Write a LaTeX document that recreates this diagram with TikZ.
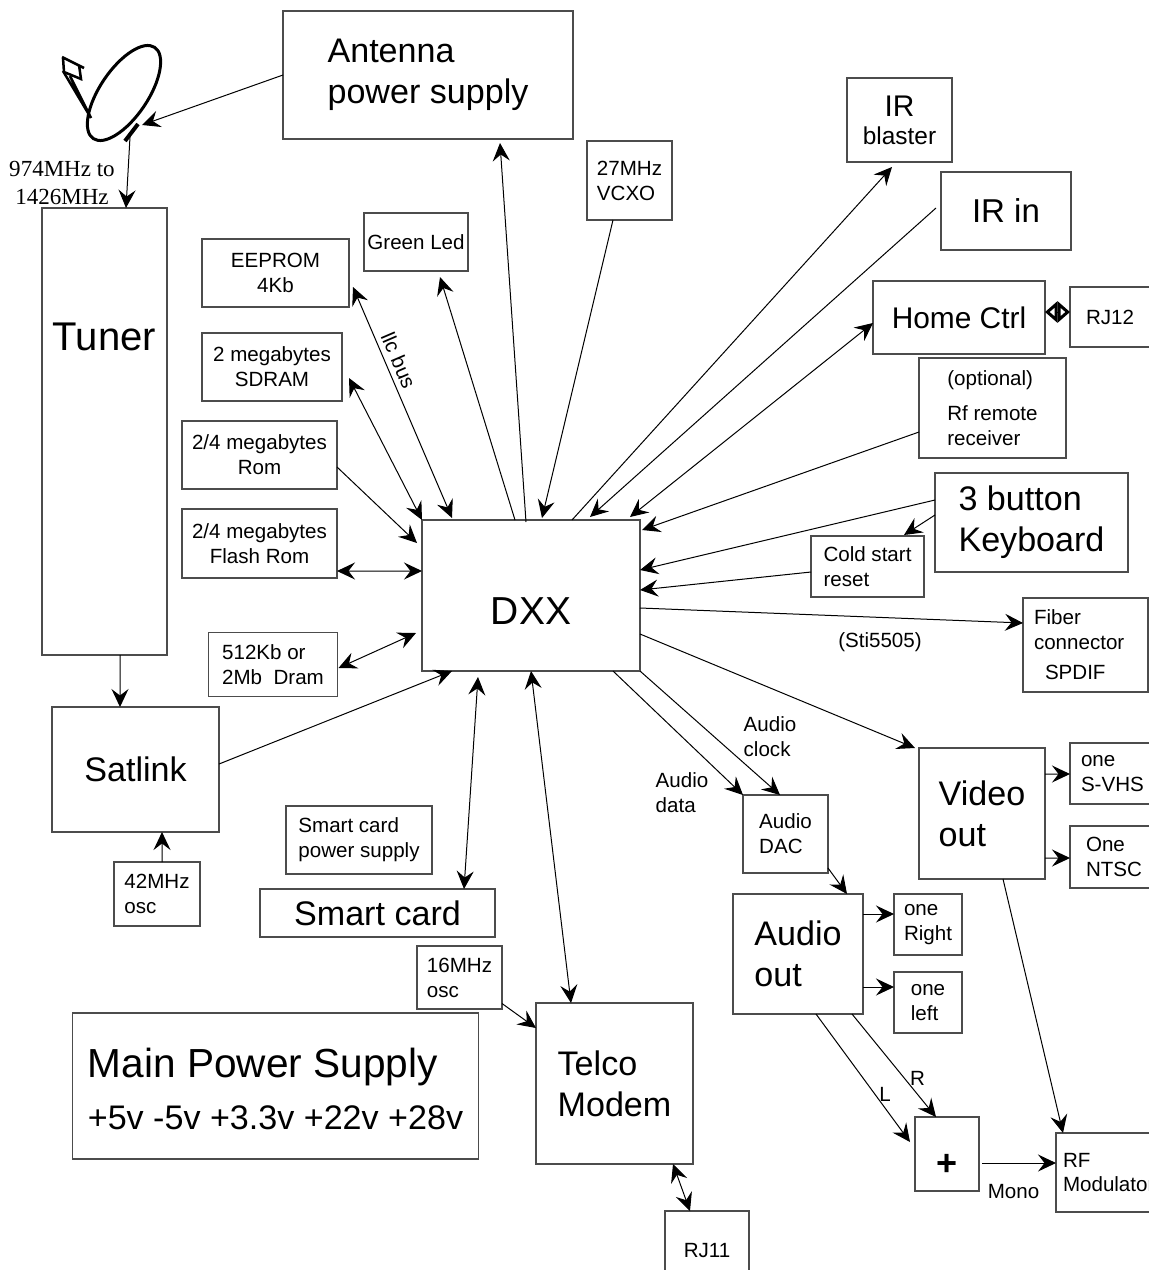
\documentclass[tikz,border=0pt]{standalone}
\usepackage{fontspec}
\setmainfont{Liberation Sans}
\newfontfamily\timesfont{Liberation Serif}
\usetikzlibrary{arrows.meta}

\newlength\pxu
\setlength\pxu{0.2mm}
\newcommand\smallf{\fontsize{11.7}{14.2}\selectfont}
\newcommand\bigf{\fontsize{19.4}{23.3}\selectfont}

\tikzset{
  blk/.style={draw=black!70, line width=0.28mm, rectangle, inner sep=0pt, outer sep=0pt, align=center, font=\smallf},
  wh/.style 2 args={minimum width=#1\pxu, minimum height=#2\pxu},
  big/.style={font=\bigf},
  txt/.style={inner sep=0pt, font=\smallf, align=left},
  >={Stealth[length=3.6mm, width=3.4mm, inset=1.3mm]},
}

\begin{document}
\begin{tikzpicture}[x=0.2mm, y=-0.2mm, line width=0.2mm]
			\fill[white] (0,0) rectangle (1149,1270);
			\useasboundingbox (0,0) rectangle (1149,1270);
			% dish
			\draw[line width=0.6mm, rotate around={56:(124,93)}] (124,93) ellipse [x radius=55, y radius=24];
			\draw[line width=0.5mm] (63,71) -- (91,118) -- (70,76);
			\draw[line width=0.5mm] (62,57) -- (84,68) (63,58) -- (64,72) -- (81,79) -- (79,65);
			\draw[line width=0.8mm] (125,141) -- (138,124);
			\coordinate (dishin) at (142,125);
			\coordinate (dishout) at (130,137);
			% blocks
			\node[blk, big, wh={290}{128}, align=left] (aps) at (428,75) {Antenna\\power supply};
			\node[blk, wh={85}{79}, align=left] (vcxo) at (629.5,180.5) {27MHz\\VCXO};
			\node[blk, wh={105}{84}, font=\fontsize{13.9}{15.9}\selectfont] (irb) at (899.5,120) {{\fontsize{17}{15.9}\selectfont IR}\\blaster};
			\node[blk, wh={130}{78}, font=\fontsize{18.8}{22}\selectfont] (irin) at (1006,211) {IR in};
			\node[blk, wh={172}{73}, font=\fontsize{17}{20}\selectfont] (home) at (959,317.5) {Home Ctrl};
			\node[blk, wh={80}{60}] (rj12) at (1110,317) {RJ12};
			\node[blk, wh={147}{68}] (eeprom) at (275.5,273) {EEPROM\\4Kb};
			\node[blk, wh={104}{58}] (led) at (416,242) {Green Led};
			\node[blk, wh={140}{68}] (sdram) at (272,367) {2 megabytes\\SDRAM};
			\node[blk, wh={155}{68}] (rom) at (259.5,455) {2/4 megabytes\\Rom};
			\node[blk, wh={155}{69}] (flash) at (259.5,543.5) {2/4 megabytes\\Flash Rom};
			\node[blk, wh={129}{64}, align=left] (dram) at (273,664.5) {512Kb or\\2Mb\ \ Dram};
			\node[blk, wh={218}{151}, font=\fontsize{22.2}{26}\selectfont, text height=57\pxu] (dxx) at (531,595.5) {DXX};
			\node[blk, wh={147}{100}, align=left] (rfrx) at (992.5,408) {(optional)\\[10\pxu]Rf remote\\receiver};
			\node[blk, big, wh={193}{99}, align=left] (kbd) at (1031.5,522.5) {3 button\\Keyboard};
			\node[blk, wh={113}{61}, align=left] (cold) at (867.5,566.5) {Cold start\\reset};
			\node[blk, wh={125}{94}, text width=103\pxu, align=left] (fiber) at (1085.5,645) {Fiber\\connector\\[5\pxu]\hspace*{11\pxu}SPDIF};
			\node[blk, wh={125}{447}, font=\fontsize{22.8}{27}\selectfont, text depth=189\pxu] (tuner) at (104.5,431.5) {Tuner};
			\node[blk, big, wh={167}{125}] (satlink) at (135.5,769.5) {Satlink};
			\node[blk, wh={86}{64}, align=left] (osc42) at (157,894) {42MHz\\osc};
			\node[blk, wh={146}{68}, align=left] (scps) at (359,840) {Smart card\\power supply};
			\node[blk, big, wh={235}{48}] (scard) at (377.5,913) {Smart card};
			\node[blk, wh={85}{63}, align=left] (osc16) at (459.5,977.5) {16MHz\\osc};
			\node[blk, wh={406}{146}, align=left, font=\fontsize{23.1}{29.6}\selectfont] (mps) at (275.5,1086) {\\[-17\pxu]Main Power Supply\\{\fontsize{19.4}{29.6}\selectfont +5v -5v +3.3v +22v +28v}};
			\node[blk, big, wh={157}{161}, align=left] (telco) at (614.5,1083.5) {Telco\\Modem};
			\node[blk, wh={84}{79}] (rj11) at (707,1250.5) {RJ11};
			\node[blk, wh={85}{78}, align=left] (dac) at (785.5,834) {Audio\\DAC};
			\node[blk, big, wh={130}{120}, align=left] (aout) at (798,954) {Audio\\out};
			\node[blk, wh={68}{61}, align=left] (outr) at (928,924.5) {one\\Right};
			\node[blk, wh={68}{61}, align=left] (outl) at (928,1002.5) {one\\left};
			\node[blk, big, wh={126}{131}, align=left] (vout) at (982,813.5) {Video\\out};
			\node[blk, wh={95}{61}, text width=73\pxu, align=left] (svhs) at (1117.5,773.5) {one\\S-VHS};
			\node[blk, wh={95}{62}, text width=63\pxu, align=left] (ntsc) at (1117.5,857) {One\\NTSC};
			\node[blk, wh={64}{74}, font=\fontsize{20.5}{24}\selectfont\bfseries, text height=42\pxu] (plus) at (947,1154) {+};
			\node[blk, wh={114}{79}, text width=100\pxu, align=left] (rfmod) at (1113,1172.5) {RF\\Modulator};
			% free labels
			\node[txt, font=\timesfont\fontsize{13.1}{15.9}\selectfont, align=center] (band) at (62,183) {974MHz to\\1426MHz};
			\node[txt] (adata) at (682,793) {Audio\\data};
			\node[txt] (aclk) at (770,737) {Audio\\clock};
			\node[txt] (sti) at (880,642) {(Sti5505)};
			\node[txt] (lbll) at (885,1094) {L};
			\node[txt] (lblr) at (917.5,1078.5) {R};
			\node[txt] (mono) at (1013.5,1191.5) {Mono};
			% antenna side
			\draw[->] (aps.west) -- (dishin);
			\draw[->] (dishout) -- ([shift={(21.5,0)}]tuner.north);
			\draw[->] ([shift={(15.5,0)}]tuner.south) -- ([shift={(-15.5,0)}]satlink.north);
			\draw[->] ([shift={(5,0)}]osc42.north) -- ([shift={(26.5,0)}]satlink.south);
			\draw[->] ([shift={(0,-5.5)}]satlink.east) -- ([shift={(30,0)}]dxx.south west);
			% memories
			\draw[<->] ([shift={(4,14)}]eeprom.east) -- node[txt, sloped, pos=.34, above, yshift=5\pxu] {llc bus} ([shift={(30,-2)}]dxx.north west);
			\draw[<->] ([shift={(7,11)}]sdram.east) -- (dxx.north west);
			\draw[->] ([shift={(0,12)}]rom.east) -- ([shift={(-5,-52.5)}]dxx.west);
			\draw[<->] ([shift={(0,27.5)}]flash.east) -- ([shift={(0,-24.5)}]dxx.west);
			\draw[<->] ([shift={(1,3.5)}]dram.east) -- ([shift={(-6,37.5)}]dxx.west);
			% top
			\draw[->] ([shift={(-16,0)}]dxx.north) -- ([shift={(24,6)}]led.south);
			\draw[->] ([shift={(-5,2)}]dxx.north) -- ([shift={(72,4)}]aps.south);
			\draw[->] ([shift={(-16.5,0)}]vcxo.south) -- ([shift={(11,-2)}]dxx.north);
			\draw[->] ([shift={(41,0)}]dxx.north) -- ([shift={(-7.5,5)}]irb.south);
			\draw[->] ([shift={(-5,-3)}]irin.west) -- ([shift={(59,-3)}]dxx.north);
			\draw[<->] ([shift={(-10,-3)}]dxx.north east) -- ([shift={(0,5.5)}]home.west);
			\draw[{Stealth[open, length=2.5mm, width=4.2mm, inset=0pt, line width=0.6mm]}-{Stealth[open, length=2.5mm, width=4.2mm, inset=0pt, line width=0.6mm]}] ([shift={(0,-5.5)}]home.east) -- ([shift={(0,-5)}]rj12.west);
			\draw[->] ([shift={(0,24)}]rfrx.west) -- ([shift={(2,10)}]dxx.north east);
			\draw[->] ([shift={(0,-22.5)}]kbd.west) -- ([shift={(0,-25.5)}]dxx.east);
			\draw[->] ([shift={(0,-7.5)}]kbd.west) -- ([shift={(-20,-1)}]cold.north east);
			\draw[->] ([shift={(0,5.5)}]cold.west) -- ([shift={(0,-5.5)}]dxx.east);
			\draw[->] ([shift={(0,12.5)}]dxx.east) -- ([shift={(0,-22)}]fiber.west);
			% bottom
			\draw[<->] ([shift={(-53,6)}]dxx.south) -- ([shift={(86.5,0)}]scard.north);
			\draw[<->] (dxx.south) -- ([shift={(-43.5,0)}]telco.north);
			\draw[<->] ([shift={(-20,0)}]telco.south east) -- ([shift={(-17,0)}]rj11.north);
			\draw[->] ([shift={(0,26)}]osc16.east) -- ([shift={(0,25)}]telco.north west);
			% audio and video
			\draw[->] ([shift={(-27,0)}]dxx.south east) -- (dac.north west);
			\draw[->] (dxx.south east) -- ([shift={(37,0)}]dac.north west);
			\draw[->] ([shift={(0,38.5)}]dxx.east) -- ([shift={(-4,0)}]vout.north west);
			\draw[->] ([shift={(0,-5)}]dac.south east) -- ([shift={(-16,0)}]aout.north east);
			\draw[->] ([shift={(0,20)}]aout.north east) -- ([shift={(0,-10.5)}]outr.west);
			\draw[->] ([shift={(0,33)}]aout.east) -- ([shift={(0,-15.5)}]outl.west);
			\draw[->] ([shift={(0,-39.5)}]vout.east) -- ([shift={(0,0.5)}]svhs.west);
			\draw[->] ([shift={(0,44.5)}]vout.east) -- ([shift={(0,1)}]ntsc.west);
			\draw[->] ([shift={(21,0)}]vout.south) -- ([shift={(7,0)}]rfmod.north west);
			\draw[->] ([shift={(18,0)}]aout.south) -- ([shift={(-5,-12)}]plus.west);
			\draw[->] ([shift={(54,0)}]aout.south) -- ([shift={(-11,0)}]plus.north);
			\draw[->] ([shift={(3,9)}]plus.east) -- ([shift={(0,-9.5)}]rfmod.west);
\end{tikzpicture}
\end{document}
